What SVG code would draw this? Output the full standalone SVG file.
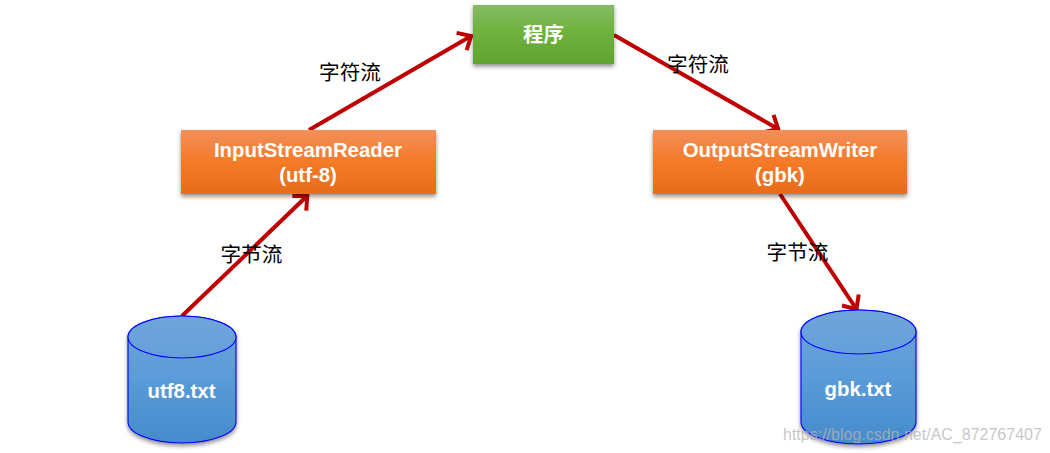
<svg xmlns="http://www.w3.org/2000/svg" width="1050" height="453" viewBox="0 0 1050 453">
  <style>
    .box { filter: url(#shadow); }
    .cyl { stroke: #0000ff; stroke-width: 1.1; }
    .lbl { font-family: "Liberation Sans", Arial, sans-serif; font-weight: bold; font-size: 20.4px; fill: #fff; text-anchor: middle; }
    .cjk { font-family: "Noto Sans CJK SC", "Liberation Sans", sans-serif; font-size: 20.6px; fill: #000; text-anchor: middle; }
    .link { fill: none; stroke: #c00000; stroke-width: 4; marker-end: url(#arrow); }
  </style>
  <defs>
    <linearGradient id="green" x1="0" y1="0" x2="0" y2="1">
      <stop offset="0" stop-color="#85bb63"/>
      <stop offset="0.45" stop-color="#6fb23e"/>
      <stop offset="1" stop-color="#5fa32f"/>
    </linearGradient>
    <linearGradient id="orange" x1="0" y1="0" x2="0" y2="1">
      <stop offset="0" stop-color="#f38f5a"/>
      <stop offset="0.5" stop-color="#f47a28"/>
      <stop offset="1" stop-color="#e86c1a"/>
    </linearGradient>
    <linearGradient id="blue" x1="0" y1="0" x2="0" y2="1">
      <stop offset="0" stop-color="#70a5da"/>
      <stop offset="0.5" stop-color="#5a9bd9"/>
      <stop offset="1" stop-color="#458bcb"/>
    </linearGradient>
    <linearGradient id="lid" x1="0" y1="0" x2="0" y2="1">
      <stop offset="0" stop-color="#70a5da"/>
      <stop offset="1" stop-color="#659fdb"/>
    </linearGradient>
    <filter id="shadow" x="-10%" y="-10%" width="120%" height="125%">
      <feDropShadow dx="0" dy="2.5" stdDeviation="2" flood-color="#000" flood-opacity="0.45"/>
    </filter>
    <marker id="arrow" markerUnits="userSpaceOnUse" markerWidth="28" markerHeight="28" refX="19" refY="14" orient="auto">
      <path d="M7 4 L18 14 L7 24" fill="none" stroke="#c00000" stroke-width="4"/>
    </marker>
  </defs>

  <g id="connectors">
    <path class="link" d="M182 316 L308 195"/>
    <path class="link" d="M309 130 L472 35.500"/>
    <path class="link" d="M614 35 L779 129.500"/>
    <path class="link" d="M780 194 L857 310"/>
  </g>

  <g id="program">
    <rect class="box" x="473" y="5" width="141" height="59" fill="url(#green)"/>
    <text class="lbl" x="543.500" y="42" style="font-family:'Noto Sans CJK SC','Liberation Sans',sans-serif">程序</text>
  </g>

  <g id="input-reader">
    <rect class="box" x="181" y="130" width="255" height="64" fill="url(#orange)"/>
    <text class="lbl" x="308" y="157">InputStreamReader</text>
    <text class="lbl" x="308" y="182">(utf-8)</text>
  </g>

  <g id="output-writer">
    <rect class="box" x="653" y="130" width="254" height="64" fill="url(#orange)"/>
    <text class="lbl" x="780" y="157">OutputStreamWriter</text>
    <text class="lbl" x="780" y="182">(gbk)</text>
  </g>

  <g id="utf8-file">
    <path class="cyl" filter="url(#shadow)" fill="url(#blue)" d="M128 337 A54 21 0 0 1 236 337 V422 A54 21 0 0 1 128 422 Z"/>
    <ellipse class="cyl" cx="182" cy="337" rx="54" ry="21" fill="url(#lid)"/>
    <text class="lbl" x="181.500" y="398">utf8.txt</text>
  </g>

  <g id="gbk-file">
    <path class="cyl" filter="url(#shadow)" fill="url(#blue)" d="M801 332 A57.500 22 0 0 1 916 332 V422 A57.500 22 0 0 1 801 422 Z"/>
    <ellipse class="cyl" cx="858.500" cy="332" rx="57.500" ry="22" fill="url(#lid)"/>
    <text class="lbl" x="858" y="396">gbk.txt</text>
  </g>

  <g id="labels">
    <text class="cjk" x="350" y="80">字符流</text>
    <text class="cjk" x="698" y="72">字符流</text>
    <text class="cjk" x="251.500" y="262">字节流</text>
    <text class="cjk" x="797.500" y="260">字节流</text>
  </g>

  <text x="783" y="440" font-family="'Liberation Sans', Arial, sans-serif" font-size="16" fill="#b4b4b4" fill-opacity="0.75">https://blog.csdn.net/AC_872767407</text>
</svg>
